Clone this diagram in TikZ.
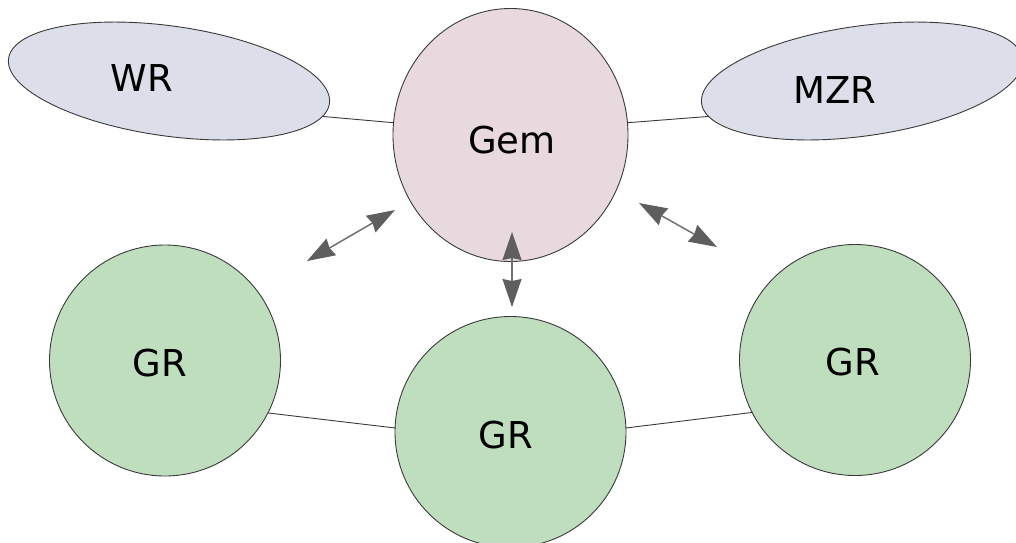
\documentclass[tikz,border=0pt]{standalone}
\usepackage{fontspec}
\setmainfont{DejaVu Sans}
\usetikzlibrary{shapes.geometric,arrows.meta}
\definecolor{ellfill}{HTML}{DCDFEA}
\definecolor{gemfill}{HTML}{E8D9DF}
\definecolor{grfill}{HTML}{BFDEBE}
\definecolor{edgecol}{HTML}{3A3A3A}
\definecolor{arrcol}{HTML}{5E5E5E}
\definecolor{arrline}{HTML}{707070}
\tikzset{
  bubble/.style={ellipse, draw=edgecol, line width=0.9pt, inner sep=0pt, outer sep=0pt},
  oval/.style={bubble, fill=ellfill, minimum width=324pt, minimum height=110pt},
  gemnode/.style={bubble, fill=gemfill, minimum width=235pt, minimum height=253pt},
  grnode/.style={bubble, fill=grfill, minimum width=231pt, minimum height=231pt},
  lbl/.style={font=\fontsize{37}{44}\selectfont, inner sep=0pt},
  link/.style={draw=edgecol, line width=0.9pt},
  dblarrow/.style={draw=arrline, line width=1.5pt,
    {Stealth[length=28pt,width=19pt,inset=2pt,color=arrcol]}-{Stealth[length=28pt,width=19pt,inset=2pt,color=arrcol]}}
}
\begin{document}
\begin{tikzpicture}[x=1pt,y=-1pt]
\useasboundingbox (0,0) rectangle (1016,542);
\begin{scope}
\clip (0,0) rectangle (1016,542);
% nodes
\node[oval, rotate=-8] (wr) at (169,81) {};
\node[oval, rotate=8] (mzr) at (862,81) {};
\node[gemnode] (gem) at (510.5,135) {};
\node[grnode] (gr1) at (165,360.5) {};
\node[grnode] (gr2) at (510.5,432) {};
\node[grnode] (gr3) at (855,360) {};
% labels
\node[lbl] (wrt) at (142,78) {WR};
\node[lbl] (mzrt) at (835,90) {MZR};
\node[lbl] (gemt) at (512,140) {Gem};
\node[lbl] (gr1t) at (160,363) {GR};
\node[lbl] (gr2t) at (506,435) {GR};
\node[lbl] (gr3t) at (853,362) {GR};
% links
\draw[link] (wr.-5) -- (gem.174);
\draw[link] (gem.6) -- (mzr.185);
\draw[link] (gr1.-27) -- (gr2.178);
\draw[link] (gr2.2) -- (gr3.207);
% arrows
\coordinate (a1s) at (307,261);
\coordinate (a1e) at (395,210);
\coordinate (a2s) at (512,232);
\coordinate (a2e) at (512,307);
\coordinate (a3s) at (639,203);
\coordinate (a3e) at (717,247);
\draw[dblarrow] (a1s) -- (a1e);
\draw[dblarrow] (a2s) -- (a2e);
\draw[dblarrow] (a3s) -- (a3e);
\end{scope}
\end{tikzpicture}
\end{document}
